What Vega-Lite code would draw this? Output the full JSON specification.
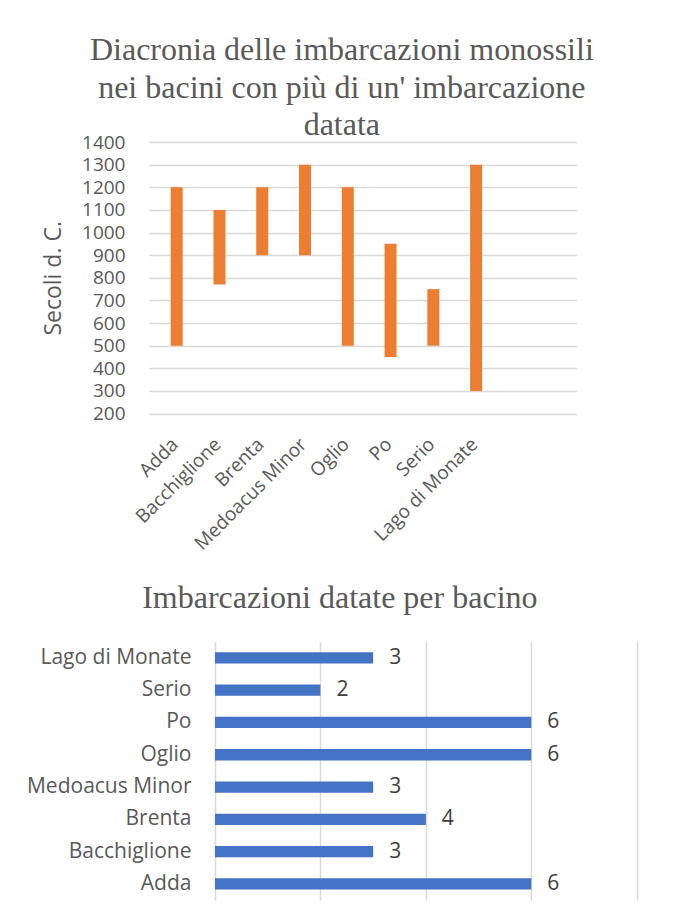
{
  "$schema": "https://vega.github.io/schema/vega-lite/v6.json",
  "autosize": "none",
  "padding": {"left": 149, "top": 142, "right": 526, "bottom": 762},
  "background": "white",
  "bounds": "flush",
  "spacing": 227.7,
  "datasets": {
    "bacini": [
      {"bacino": "Adda", "da": 500, "a": 1200, "imbarcazioni": 6},
      {"bacino": "Bacchiglione", "da": 770, "a": 1100, "imbarcazioni": 3},
      {"bacino": "Brenta", "da": 900, "a": 1200, "imbarcazioni": 4},
      {"bacino": "Medoacus Minor", "da": 900, "a": 1300, "imbarcazioni": 3},
      {"bacino": "Oglio", "da": 500, "a": 1200, "imbarcazioni": 6},
      {"bacino": "Po", "da": 450, "a": 950, "imbarcazioni": 6},
      {"bacino": "Serio", "da": 500, "a": 750, "imbarcazioni": 2},
      {"bacino": "Lago di Monate", "da": 300, "a": 1300, "imbarcazioni": 3}
    ]
  },
  "config": {
    "view": {"stroke": null},
    "font": "Open Sans",
    "title": {"font": "Liberation Serif", "fontSize": 32, "fontWeight": "normal", "color": "#595959", "lineHeight": 37.5},
    "axis": {"labelColor": "#595959", "titleColor": "#595959", "gridColor": "#d9d9d9", "gridWidth": 1.5, "domain": false, "ticks": false, "titleFontWeight": "normal"}
  },
  "vconcat": [
    {
      "width": 427.7,
      "height": 271.6,
      "title": {
        "text": ["Diacronia delle imbarcazioni monossili", "nei bacini con più di un' imbarcazione", "datata"],
        "anchor": "middle",
        "frame": "group",
        "baseline": "alphabetic",
        "dx": -21,
        "dy": 40,
        "offset": 6
      },
      "data": {"name": "bacini"},
      "mark": {"type": "bar", "color": "#ED7D31", "width": {"band": 0.28}},
      "encoding": {
        "x": {
          "field": "bacino",
          "type": "nominal",
          "sort": null,
          "scale": {"paddingInner": 0, "paddingOuter": 1, "align": 0.074},
          "axis": {"title": null, "labelAngle": -45, "labelFontSize": 19, "labelPadding": 21, "labelOffset": -8, "grid": false}
        },
        "y": {
          "field": "da",
          "type": "quantitative",
          "scale": {"domain": [200, 1400], "nice": false, "zero": false},
          "axis": {
            "title": "Secoli d. C.",
            "titleFontSize": 23,
            "titlePadding": 16,
            "labelFontSize": 19,
            "labelPadding": 24,
            "format": "d",
            "values": [200, 300, 400, 500, 600, 700, 800, 900, 1000, 1100, 1200, 1300, 1400]
          }
        },
        "y2": {"field": "a"}
      }
    },
    {
      "bounds": "flush",
      "spacing": 65,
      "hconcat": [
        {
          "width": 1,
          "height": 258.4,
          "data": {"values": []},
          "mark": "point"
        },
        {
          "width": 421.7,
          "height": 258.4,
          "title": {
            "text": "Imbarcazioni datate per bacino",
            "anchor": "middle",
            "frame": "group",
            "baseline": "alphabetic",
            "dx": -86,
            "dy": 32,
            "offset": 34
          },
          "data": {"name": "bacini"},
          "encoding": {
            "y": {
              "field": "bacino",
              "type": "nominal",
              "sort": ["Lago di Monate", "Serio", "Po", "Oglio", "Medoacus Minor", "Brenta", "Bacchiglione", "Adda"],
              "scale": {"paddingInner": 0.65, "paddingOuter": 0.325},
              "axis": {"title": null, "labelFontSize": 21, "labelPadding": 24, "grid": false}
            },
            "x": {
              "field": "imbarcazioni",
              "type": "quantitative",
              "scale": {"domain": [0, 8], "nice": false},
              "axis": {"title": null, "labels": false, "values": [0, 2, 4, 6, 8]}
            }
          },
          "layer": [
            {"mark": {"type": "bar", "color": "#4472C4"}},
            {
              "mark": {"type": "text", "align": "left", "baseline": "middle", "dx": 16, "fontSize": 21, "color": "#404040"},
              "encoding": {"text": {"field": "imbarcazioni", "type": "quantitative"}}
            }
          ]
        }
      ]
    }
  ]
}
